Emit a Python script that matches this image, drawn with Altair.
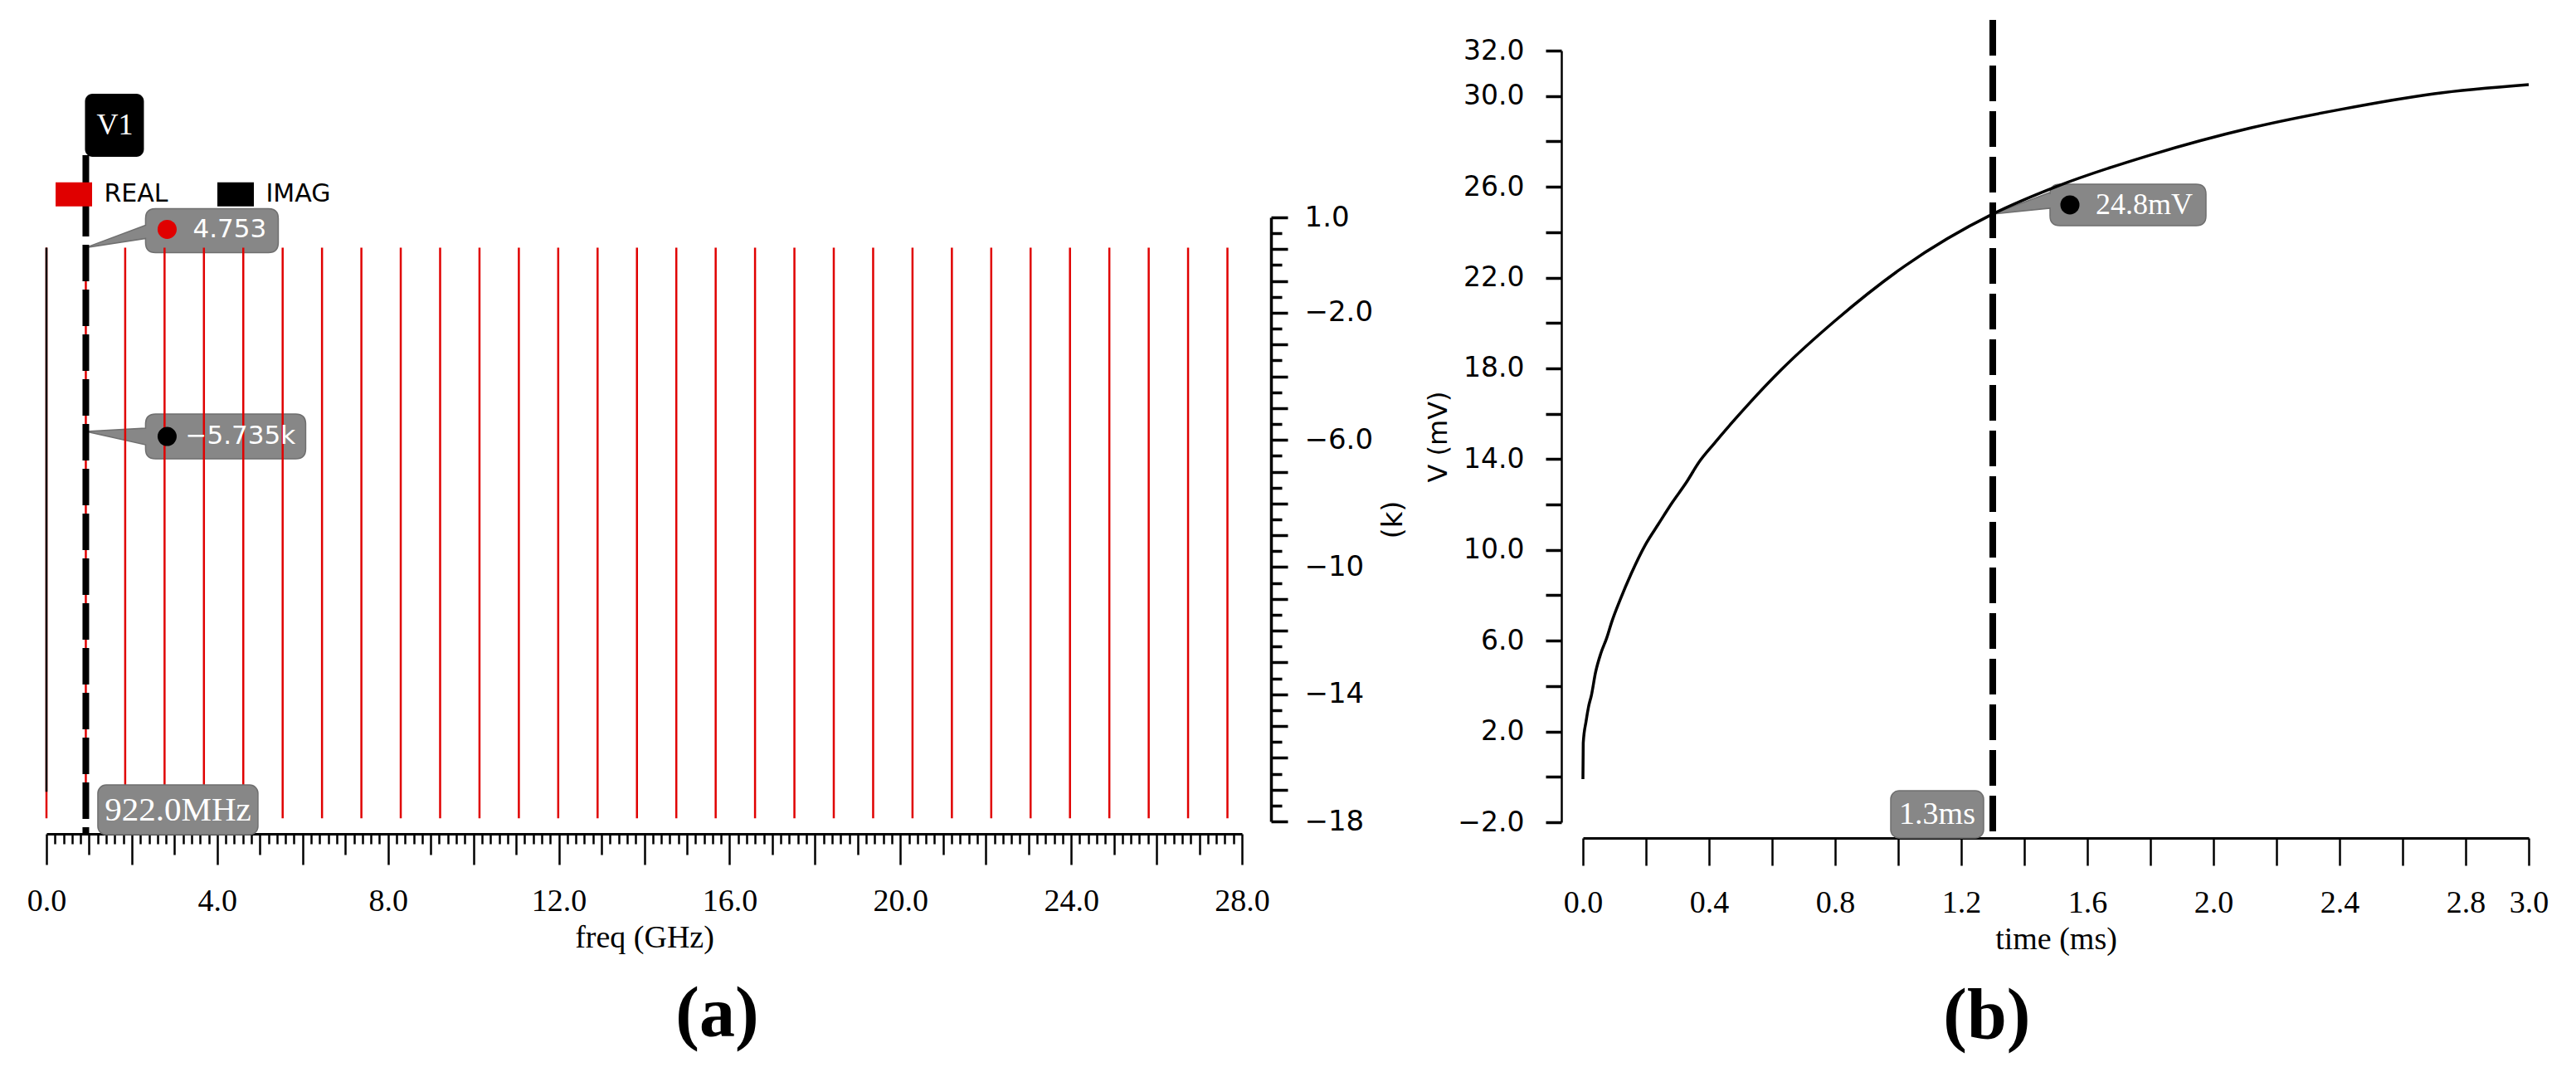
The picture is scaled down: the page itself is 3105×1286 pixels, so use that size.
import altair as alt
import pandas as pd

# ---------------- (a) spectrum ----------------
# DC + harmonics of the 922 MHz fundamental (GHz)
stem_freq = [0.0, 0.922, 1.844, 2.766, 3.688, 4.61, 5.532, 6.454, 7.376, 8.298,
             9.22, 10.142, 11.064, 11.986, 12.908, 13.83, 14.752, 15.674, 16.596,
             17.518, 18.44, 19.362, 20.284, 21.206, 22.128, 23.05, 23.972, 24.894,
             25.816, 26.738, 27.66]
real_hi = [0.05] * len(stem_freq)      # top of the REAL stems on the (k) axis
real_lo = [-17.9] * len(stem_freq)     # bottom of the REAL stems
imag_freq = [0.0]
imag_hi = [0.05]
imag_lo = [-17.07]

cursor_a = 0.922          # V1 cursor, GHz
real_mark = 0.05          # where the REAL marker sits on the (k) axis
imag_mark = -5.735        # IMAG marker value (k)

# ---------------- (b) transient ----------------
time_ms = [0.0, 0.001, 0.01, 0.018, 0.027, 0.04, 0.057, 0.075, 0.092, 0.118,
           0.153, 0.197, 0.24, 0.284, 0.327, 0.37, 0.414, 0.466, 0.527, 0.63,
           0.8, 1.02, 1.3, 1.5, 1.8, 2.12, 2.4, 2.7, 3.0]
v_mv = [-0.1, 1.5, 2.45, 3.1, 3.6, 4.6, 5.45, 6.1, 6.85, 7.8,
        8.95, 10.2, 11.15, 12.1, 12.95, 13.9, 14.65, 15.5, 16.45, 17.95,
        20.1, 22.5, 24.8, 26.0, 27.4, 28.6, 29.4, 30.1, 30.5]
cursor_b = 1.3
v_mark = 24.8

# tick positions
xa_ticks = [round(0.2 * i, 1) for i in range(141)]
ya_ticks = [round(-18 + 0.5 * i, 1) for i in range(39)]
xb_ticks = [round(0.2 * i, 1) for i in range(16)]
yb_ticks = [-2 + 2 * i for i in range(18)]

RED = "#e00000"
GRAY = "#878787"
EDGE = "#6f6f6f"
W_A, H_A = 1441, 728
W_B, H_B = 1140, 930

# ---------------- axes ----------------
ax_xa = alt.Axis(
    values=xa_ticks, offset=15, grid=False,
    labelExpr="abs(datum.value % 4) < 0.001 ? format(datum.value, '.1f') : ''",
    tickSize={"condition": [{"test": "abs(datum.value % 2) < 0.001", "value": 37},
                            {"test": "abs(datum.value % 1) < 0.001", "value": 25}],
              "value": 12},
    tickWidth=2.5, domainWidth=3, labelPadding=25, labelFlush=False, labelOverlap=False,
    labelFont="Liberation Serif", labelFontSize=38,
    title="freq (GHz)", titleFont="Liberation Serif", titleFontSize=38,
    titleFontWeight="normal", titlePadding=6,
)
ax_ya = alt.Axis(
    orient="right", values=ya_ticks, offset=35, grid=False,
    labelExpr="indexof([1,-2,-6,-10,-14,-18], datum.value) >= 0 ? "
              "(datum.value > 0 ? ' ' + format(datum.value, '.1f') : "
              "(abs(datum.value) < 10 ? format(datum.value, '.1f') : format(datum.value, 'd'))) : ''",
    tickSize={"condition": {"test": "datum.value % 1 == 0", "value": 20}, "value": 13},
    tickWidth=3.5, domainWidth=3.5, labelPadding=20, labelFlush=False, labelOverlap=False,
    labelFont="DejaVu Sans", labelFontSize=34, labelAlign="left",
    title="(k)", titleFont="DejaVu Sans", titleFontSize=34, titleFontWeight="normal",
    titleAngle=270, titlePadding=42,
)
ax_xb = alt.Axis(
    values=xb_ticks, offset=19, grid=False,
    labelExpr="(round(datum.value * 10) % 4 == 0 || datum.value == 3) ? format(datum.value, '.1f') : ''",
    tickSize=33, tickWidth=2.5, domainWidth=3, labelPadding=26, labelFlush=False,
    labelOverlap=False, labelFont="Liberation Serif", labelFontSize=38,
    title="time (ms)", titleFont="Liberation Serif", titleFontSize=38,
    titleFontWeight="normal", titlePadding=6,
)
ax_yb = alt.Axis(
    values=yb_ticks, offset=26, grid=False,
    labelExpr="((datum.value + 2) % 4 == 0 || datum.value == 32) ? format(datum.value, '.1f') : ''",
    tickSize=19, tickWidth=3.5, domainWidth=2.5, labelPadding=26, labelFlush=False,
    labelOverlap=False, labelFont="DejaVu Sans", labelFontSize=33,
    title="V (mV)", titleFont="DejaVu Sans", titleFontSize=32, titleFontWeight="normal",
    titlePadding=6,
)

sc_xa = alt.Scale(domain=[0, 28], nice=False, zero=False)
sc_ya = alt.Scale(domain=[-18, 1], nice=False, zero=False)
sc_xb = alt.Scale(domain=[0, 3], nice=False, zero=False)
sc_yb = alt.Scale(domain=[-2, 32], nice=False, zero=False)
sc_col = alt.Scale(domain=["REAL", "IMAG"], range=[RED, "black"])


def xa(f):
    return alt.X(f"{f}:Q", scale=sc_xa, axis=ax_xa)


def ya(f):
    return alt.Y(f"{f}:Q", scale=sc_ya, axis=ax_ya)


def xb(f):
    return alt.X(f"{f}:Q", scale=sc_xb, axis=ax_xb)


def yb(f):
    return alt.Y(f"{f}:Q", scale=sc_yb, axis=ax_yb)


# callout shapes (pixel paths, tip at the anchor point)
PATH_REAL = ("M0,0L72,-27L72,-35Q72,-47 84,-47L220,-47Q232,-47 232,-35L232,-6"
             "Q232,6 220,6L84,6Q72,6 72,-6L72,-11Z")
PATH_IMAG = ("M0,0L72,-4L72,-9Q72,-21 84,-21L253,-21Q265,-21 265,-9L265,21"
             "Q265,33 253,33L84,33Q72,33 72,21L72,16Z")
PATH_V = ("M0,0L69,-26L69,-24Q69,-36 81,-36L245,-36Q257,-36 257,-24L257,2"
          "Q257,14 245,14L81,14Q69,14 69,2L69,-7Z")

# ---------------- panel (a) ----------------
stems = pd.DataFrame({
    "freq": stem_freq + imag_freq,
    "hi": real_hi + imag_hi,
    "lo": real_lo + imag_lo,
    "series": ["REAL"] * len(stem_freq) + ["IMAG"] * len(imag_freq),
})
cur_a = pd.DataFrame({"freq": [cursor_a]})
real_df = pd.DataFrame({"freq": [cursor_a], "val": [real_mark], "label": ["4.753"]})
imag_df = pd.DataFrame({"freq": [cursor_a], "val": [imag_mark], "label": ["\u22125.735k"]})

# legend swatches: a 44 px long line drawn 29 px thick gives the flat rectangles
legend_a = alt.Legend(
    orient="none", legendX=-3.5, legendY=-64.5, direction="horizontal", title=None,
    symbolType="M-1,0L1,0", symbolSize=1936, symbolStrokeWidth=29, symbolOpacity=1,
    labelFont="DejaVu Sans", labelFontSize=30, labelColor="black",
    labelOffset=0, columnPadding=0, padding=0,
)

stem_layer = alt.Chart(stems).mark_rule(strokeWidth=2.5).encode(
    x=xa("freq"), y=ya("hi"), y2="lo",
    color=alt.Color("series:N", scale=sc_col, legend=legend_a),
)

real_box = alt.Chart(real_df).mark_point(
    shape=PATH_REAL, size=4, filled=True, fill=GRAY, stroke=EDGE, strokeWidth=1.5, opacity=1
).encode(x=xa("freq"), y=ya("val"))
imag_box = alt.Chart(imag_df).mark_point(
    shape=PATH_IMAG, size=4, filled=True, fill=GRAY, stroke=EDGE, strokeWidth=1.5, opacity=1
).encode(x=xa("freq"), y=ya("val"))
real_dot = alt.Chart(real_df).mark_point(
    shape="circle", size=530, filled=True, color=RED, opacity=1, xOffset=98, yOffset=-22
).encode(x=xa("freq"), y=ya("val"))
imag_dot = alt.Chart(imag_df).mark_point(
    shape="circle", size=530, filled=True, color="black", opacity=1, xOffset=98, yOffset=6
).encode(x=xa("freq"), y=ya("val"))
real_txt = alt.Chart(real_df).mark_text(
    align="left", baseline="middle", dx=129, dy=-21, color="white",
    font="DejaVu Sans", fontSize=31
).encode(x=xa("freq"), y=ya("val"), text="label:N")
imag_txt = alt.Chart(imag_df).mark_text(
    align="left", baseline="middle", dx=120, dy=6, color="white",
    font="DejaVu Sans", fontSize=31
).encode(x=xa("freq"), y=ya("val"), text="label:N")

cursor_rule_a = alt.Chart(cur_a).mark_rule(
    color="black", strokeWidth=8, strokeDash=[44, 10]
).encode(x=xa("freq"), y=alt.value(-75), y2=alt.value(H_A + 15))
flag = alt.Chart(cur_a).mark_rect(
    color="black", cornerRadius=9, xOffset=-1, x2Offset=70
).encode(x=xa("freq"), x2="freq", y=alt.value(-149), y2=alt.value(-73))
flag_txt = alt.Chart(cur_a).mark_text(
    text="V1", color="white", font="Liberation Serif", fontSize=36,
    align="center", baseline="middle", dx=35
).encode(x=xa("freq"), y=alt.value(-111))
freq_box = alt.Chart(cur_a).mark_rect(
    color=GRAY, stroke=EDGE, strokeWidth=1.5, cornerRadius=10, xOffset=14.5, x2Offset=207.5
).encode(x=xa("freq"), x2="freq", y=alt.value(684), y2=alt.value(744))
freq_txt = alt.Chart(cur_a).mark_text(
    text="922.0MHz", color="white", font="Liberation Serif", fontSize=41,
    align="center", baseline="middle", dx=111
).encode(x=xa("freq"), y=alt.value(715))

panel_a = alt.layer(
    real_box, imag_box, stem_layer, freq_box, cursor_rule_a, flag, flag_txt,
    real_dot, imag_dot, real_txt, imag_txt, freq_txt
).properties(
    width=W_A, height=H_A,
    title=alt.TitleParams("(a)", orient="bottom", anchor="middle", frame="bounds",
                          font="Liberation Serif", fontSize=86, fontWeight="bold",
                          color="black", offset=32),
)

spacer = alt.Chart(pd.DataFrame({"s": [0]})).mark_text(text="").encode(
    x=alt.value(0), y=alt.value(0)
).properties(width=W_A, height=201)

left = alt.vconcat(spacer, panel_a, spacing=0, bounds="flush").resolve_scale(
    color="independent").resolve_legend(color="independent")

# ---------------- panel (b) ----------------
curve = pd.DataFrame({"t": time_ms, "v": v_mv})
cur_b = pd.DataFrame({"t": [cursor_b]})
v_df = pd.DataFrame({"t": [cursor_b], "v": [v_mark], "label": ["24.8mV"]})

v_box = alt.Chart(v_df).mark_point(
    shape=PATH_V, size=4, filled=True, fill=GRAY, stroke=EDGE, strokeWidth=1.5, opacity=1
).encode(x=xb("t"), y=yb("v"))
line_b = alt.Chart(curve).mark_line(
    color="black", strokeWidth=3.5, interpolate="monotone"
).encode(x=xb("t"), y=yb("v"))
cursor_rule_b = alt.Chart(cur_b).mark_rule(
    color="black", strokeWidth=8, strokeDash=[43, 12]
).encode(x=xb("t"), y=alt.value(-37), y2=alt.value(H_B + 19))
v_dot = alt.Chart(v_df).mark_point(
    shape="circle", size=530, filled=True, color="black", opacity=1, xOffset=93, yOffset=-11
).encode(x=xb("t"), y=yb("v"))
v_txt = alt.Chart(v_df).mark_text(
    align="left", baseline="middle", dx=124, dy=-11, color="white",
    font="Liberation Serif", fontSize=36
).encode(x=xb("t"), y=yb("v"), text="label:N")
t_box = alt.Chart(cur_b).mark_rect(
    color=GRAY, stroke=EDGE, strokeWidth=1.5, cornerRadius=10, xOffset=-123, x2Offset=-11
).encode(x=xb("t"), x2="t", y=alt.value(892), y2=alt.value(949))
t_txt = alt.Chart(cur_b).mark_text(
    text="1.3ms", color="white", font="Liberation Serif", fontSize=38,
    align="center", baseline="middle", dx=-67
).encode(x=xb("t"), y=alt.value(921))

panel_b = alt.layer(
    v_box, line_b, cursor_rule_b, t_box, t_txt, v_dot, v_txt
).properties(
    width=W_B, height=H_B,
    title=alt.TitleParams("(b)", orient="bottom", anchor="middle", frame="bounds",
                          font="Liberation Serif", fontSize=86, fontWeight="bold",
                          color="black", offset=32),
)

chart = alt.hconcat(left, panel_b, spacing=20).resolve_scale(
    color="independent"
).resolve_legend(
    color="independent"
).properties(
    padding={"left": 24, "top": 12, "right": 5, "bottom": 5},
    background="white",
).configure_view(
    stroke=None
).configure_axis(
    domainColor="black", tickColor="black", labelColor="black", titleColor="black",
    labelBound=False,
)

chart.save("out.html", embed_options={"renderer": "svg", "actions": False})
